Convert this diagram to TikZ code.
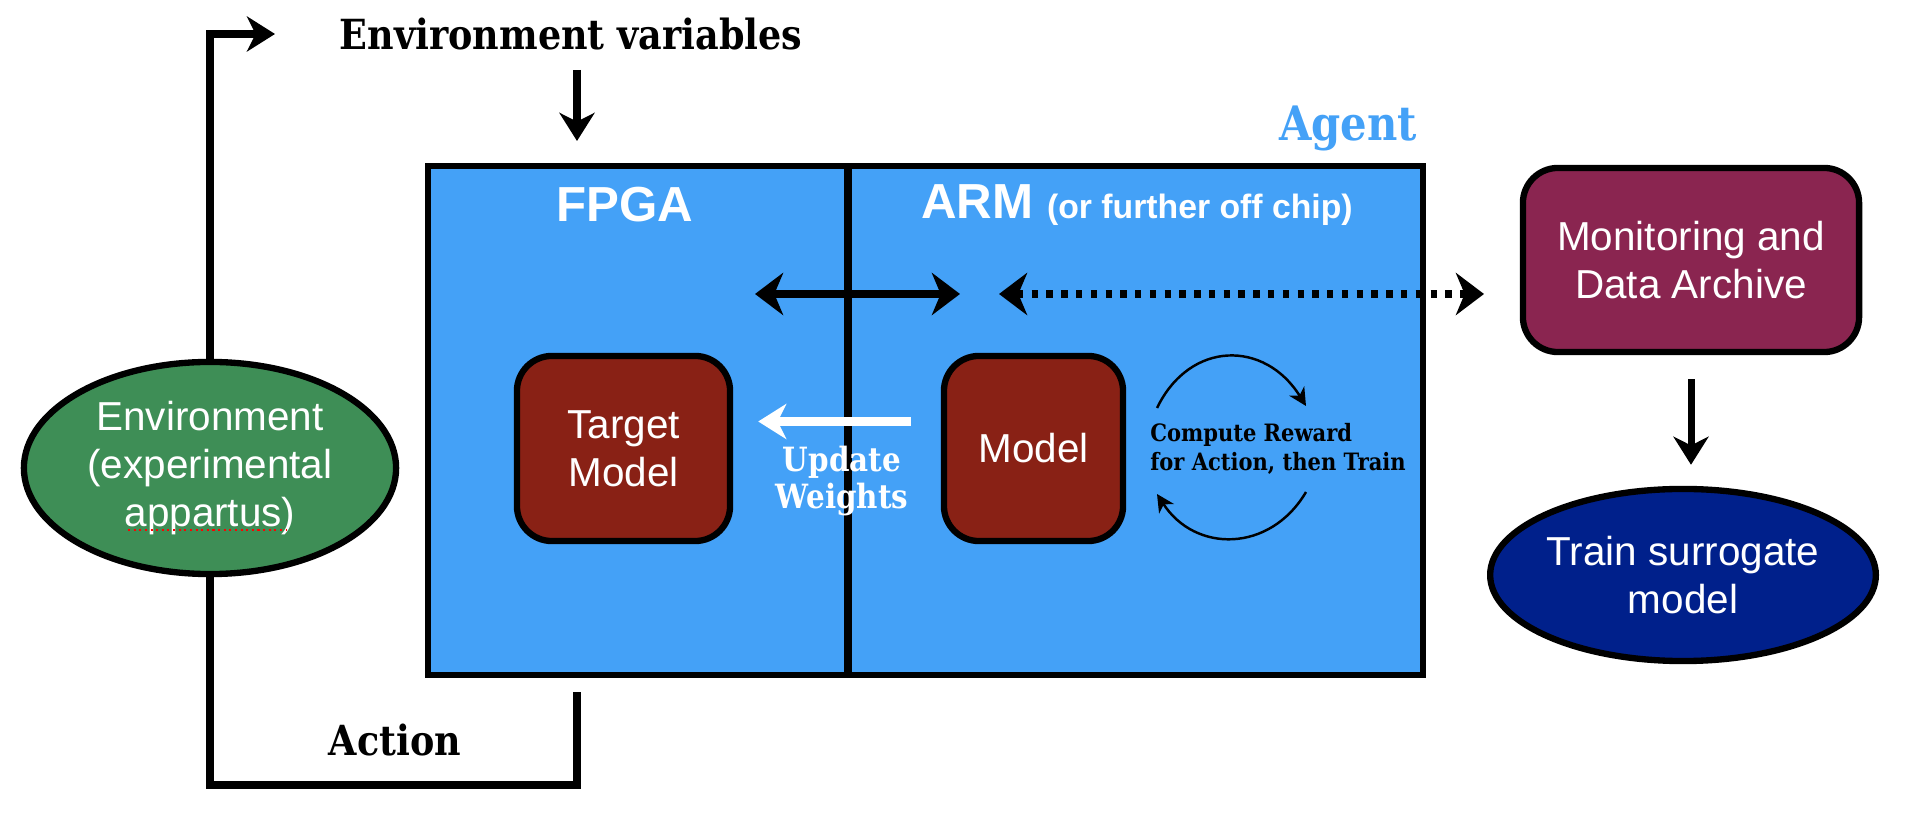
\documentclass[tikz,border=0pt]{standalone}
\usepackage{fontspec}
\setsansfont{Liberation Sans}
\newfontfamily\slabfont{DejaVu Serif}[FakeStretch=0.88]
\usetikzlibrary{calc}
\usetikzlibrary{positioning}
\usetikzlibrary{shapes.geometric}
\usetikzlibrary{arrows.meta}
\definecolor{agentblue}{RGB}{68,161,247}
\definecolor{modelred}{RGB}{137,33,21}
\definecolor{archivered}{RGB}{138,37,80}
\definecolor{envgreen}{RGB}{62,142,86}
\definecolor{surrnavy}{RGB}{0,32,139}

\begin{document}
\begin{tikzpicture}[x=0.01cm, y=-0.01cm,
    heavy/.style={line width=2pt},
    tipsolid/.style={-{Stealth[length=8pt, width=10pt, inset=2.5pt]}},
    bothsolid/.style={{Stealth[length=8pt, width=12pt, inset=2.5pt]}-{Stealth[length=8pt, width=12pt, inset=2.5pt]}},
    thinarrow/.style={line width=0.7pt, -{Stealth[length=5pt, width=5pt, inset=1.5pt]}},
    boxtext/.style={text=white, align=center, font=\sffamily\fontsize{11.5}{13.6}\selectfont},
    headtext/.style={text=white, font=\sffamily\bfseries\fontsize{14}{16}\selectfont},
    slabtext/.style={align=center, font=\slabfont\bfseries\fontsize{11.8}{14}\selectfont},
    modelbox/.style={boxtext, rectangle, rounded corners=0.35cm, draw=black, line width=1.8pt, fill=modelred, minimum height=1.85cm},
    ovalnode/.style={boxtext, ellipse, draw=black, line width=1.8pt, inner sep=0pt}]
    \useasboundingbox (0,0) rectangle (1918,828);
    \node[rectangle, draw=black, line width=1.8pt, fill=agentblue, minimum width=9.95cm, minimum height=5.09cm] (agent) at (925.5,420.5) {};
    \coordinate (divtop) at (848,166);
    \coordinate (divbot) at (848,675);
    \draw[heavy] (divtop) -- (divbot);
    \node[headtext] (fpga) at (625,205) {FPGA};
    \node[headtext] (arm) at (1137,205) {ARM {\fontsize{9.6}{11}\selectfont (or further off chip)}};
    \node[slabtext, text=agentblue, font=\slabfont\bfseries\fontsize{13.5}{16}\selectfont] (agentlabel) at (1348,128) {Agent};
    \node[modelbox, minimum width=2.13cm] (target) at (623.5,448.5) {Target\\Model};
    \node[modelbox, minimum width=1.79cm] (model) at (1033.5,448.5) {Model};
    \node[boxtext, rectangle, rounded corners=0.35cm, draw=black, line width=1.8pt, fill=archivered, minimum width=3.36cm, minimum height=1.84cm] (archive) at (1691,260) {Monitoring and\\Data Archive};
    \node[ovalnode, fill=envgreen, minimum width=3.72cm, minimum height=2.12cm] (env) at (210,468) {Environment\\(experimental\\appartus)};
    \node[ovalnode, fill=surrnavy, minimum width=3.82cm, minimum height=1.72cm] (surr) at (1683,575) {Train surrogate\\model};
    \draw[red, densely dotted, line width=0.6pt] (128,530) -- (286,530);
    \node[slabtext] (envvars) at (571,34) {Environment variables};
    \node[slabtext] (action) at (395,740) {Action};
    \node[slabtext, text=white, font=\slabfont\bfseries\fontsize{9.5}{10.4}\selectfont] (update) at (842,481) {Update\\Weights};
    \node[slabtext, align=left, font=\slabfont\bfseries\fontsize{6.8}{8.4}\selectfont] (reward) at (1278,449) {Compute Reward\\for Action, then Train};
    \coordinate (vartip) at (275,34);
    \coordinate (actcorner) at (577,785);
    \coordinate (actend) at (577,692);
    \draw[heavy, tipsolid] (env.north) |- (vartip);
    \draw[heavy] (env.south) |- (actcorner) -- (actend);
    \coordinate (varsout) at (577,70);
    \coordinate (varsin) at (577,141);
    \draw[heavy, tipsolid] (varsout) -- (varsin);
    \coordinate (busleft) at (755,294);
    \coordinate (busright) at (960,294);
    \draw[heavy, bothsolid] (busleft) -- (busright);
    \coordinate (linkleft) at (999,294);
    \coordinate (linkright) at (1484,294);
    \draw[heavy, bothsolid, dash pattern=on 1.8pt off 2.4pt] (linkleft) -- (linkright);
    \draw[line width=2.4pt, white, tipsolid] ($(model.west)+(-30,-27)$) -- ($(target.east)+(25,-27)$);
    \draw[heavy, tipsolid] ($(archive.south)+(0,24)$) -- ($(archive.south |- surr.north)+(0,-21)$);
    \coordinate (rwa) at (1157,408);
    \coordinate (rwb) at (1306,406);
    \coordinate (rwc) at (1306,492);
    \coordinate (rwd) at (1157,494);
    \draw[thinarrow] (rwa) .. controls (1190,340) and (1265,340) .. (rwb);
    \draw[thinarrow] (rwc) .. controls (1270,553) and (1195,553) .. (rwd);
\end{tikzpicture}
\end{document}
